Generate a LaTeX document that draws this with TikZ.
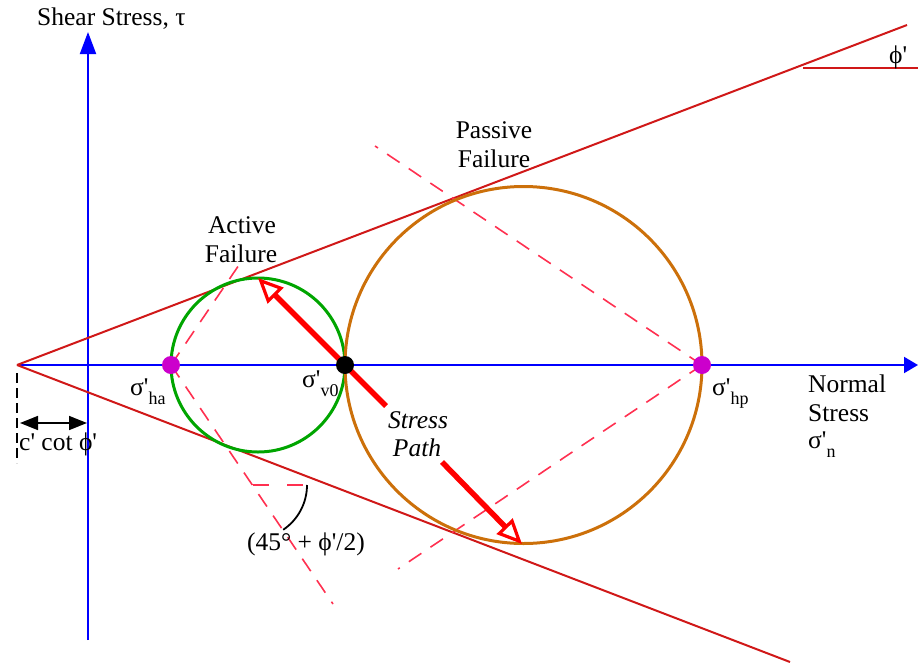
\documentclass[tikz,border=0pt]{standalone}
\usepackage{fontspec}
\setmainfont{Liberation Serif}[Ligatures=TeXOff]
\usetikzlibrary{arrows.meta}
\definecolor{axisblue}{RGB}{0,0,255}
\definecolor{envred}{RGB}{208,24,24}
\definecolor{planered}{RGB}{255,48,80}
\definecolor{activegreen}{RGB}{0,165,0}
\definecolor{passiveorange}{RGB}{204,112,10}
\definecolor{poledot}{RGB}{204,0,204}
\newcommand\subtx[1]{\raisebox{-9pt}{\fontsize{18}{18}\selectfont #1}}
\begin{document}
\begin{tikzpicture}[x=1pt,y=-1pt,
  axis/.style={draw=axisblue,line width=2pt},
  envelope/.style={draw=envred,line width=2pt},
  plane/.style={draw=planered,line width=1.6pt,dash pattern=on 15pt off 11pt},
  mohr/.style={line width=3pt},
  patharrow/.style={draw=red,line width=5.5pt,-{Triangle[open,length=25pt,width=22pt,line width=3.2pt]}},
  lbl/.style={font=\fontsize{25.5}{29}\selectfont,inner sep=0pt},
  dotmark/.style={circle,inner sep=0pt,minimum size=18pt}
]
\useasboundingbox (0,0) rectangle (918,664);

% coordinates
\coordinate (O) at (17,365);
\coordinate (xend) at (918,365);
\coordinate (ybot) at (88,640);
\coordinate (ytop) at (88,32);
\coordinate (upEnd) at (907,25);
\coordinate (loEnd) at (790,662);
\coordinate (phiA) at (803,68);
\coordinate (phiB) at (918,68);

% axes
\draw[axis,-{Triangle[length=22pt,width=16pt]}] (ybot) -- (ytop);
\draw[axis,-{Triangle[length=14pt,width=16pt]}] (O) -- (xend);

% failure envelopes
\draw[envelope] (O) -- (upEnd);
\draw[envelope] (O) -- (loEnd);
\draw[envred,line width=2pt] (phiA) -- (phiB);

% failure planes
\coordinate (aUp) at (241,262);
\coordinate (aLo) at (333,604);
\coordinate (pUp) at (375,146);
\coordinate (pLo) at (398,569);
\coordinate (pole1) at (171,365);
\coordinate (pole2) at (702,365);
\draw[plane] (pole1) -- (aUp);
\draw[plane] (pole1) -- (aLo);
\draw[plane] (pole2) -- (pUp);
\draw[plane] (pole2) -- (pLo);

% angle marker
\coordinate (angC) at (253,485);
\coordinate (angR) at (307,485);
\draw[planered,line width=1.6pt,dash pattern=on 16pt off 18pt] (angC) -- (angR);
\draw[black,line width=1.8pt] (angR) arc[start angle=0,end angle=56,radius=54];

% Mohr circles
\draw[mohr,activegreen] (258,365) circle[radius=87];
\draw[mohr,passiveorange] (523.5,365) circle[radius=178.5];

% stress path arrows
\coordinate (sp1) at (386,406);
\coordinate (topG) at (258,278);
\coordinate (sp2) at (442,462);
\coordinate (botO) at (522,544);
\draw[patharrow] (sp1) -- (topG);
\draw[patharrow] (sp2) -- (botO);

% dots
\node[dotmark,fill=poledot] (ha) at (pole1) {};
\node[dotmark,fill=poledot] (hp) at (pole2) {};
\node[dotmark,fill=black] (v0) at (345,365) {};

% c' cot phi'
\coordinate (dA) at (17,373);
\coordinate (dB) at (17,463);
\draw[black,line width=1.6pt,dash pattern=on 10pt off 5pt] (dA) -- (dB);
\coordinate (cA) at (20,423);
\coordinate (cB) at (87,423);
\draw[black,line width=1.6pt,{Triangle[length=18pt,width=14pt]}-{Triangle[length=18pt,width=14pt]}] (cA) -- (cB);

% labels
\node[lbl,anchor=base west] (ylab) at (37,25) {Shear Stress, τ};
\node[lbl,anchor=base west] (phitop) at (889,63) {ϕ'};
\node[lbl,anchor=base] (pas1) at (494,138) {Passive};
\node[lbl,anchor=base] (pas2) at (494,167) {Failure};
\node[lbl,anchor=base] (act1) at (242,233) {Active};
\node[lbl,anchor=base] (act2) at (241,262) {Failure};
\node[lbl,anchor=base west] (lha) at (130,395) {σ'\subtx{ha}};
\node[lbl,anchor=base west] (lv0) at (302,387) {σ'\subtx{v0}};
\node[lbl,anchor=base west] (lhp) at (712,395) {σ'\subtx{hp}};
\node[lbl,anchor=base west] (nx1) at (808,392) {Normal};
\node[lbl,anchor=base west] (nx2) at (808,421) {Stress};
\node[lbl,anchor=base west] (nx3) at (808,448) {σ'\subtx{n}};
\node[lbl,anchor=base,font=\fontsize{25.5}{29}\selectfont\itshape] (sp1lab) at (418,428) {Stress};
\node[lbl,anchor=base,font=\fontsize{25.5}{29}\selectfont\itshape] (sp2lab) at (417,456) {Path};
\node[lbl,anchor=base] (anglab) at (306,550) {(45° + ϕ'/2)};
\node[lbl,anchor=base west] (clab) at (19,450) {c' cot ϕ'};
\end{tikzpicture}
\end{document}
